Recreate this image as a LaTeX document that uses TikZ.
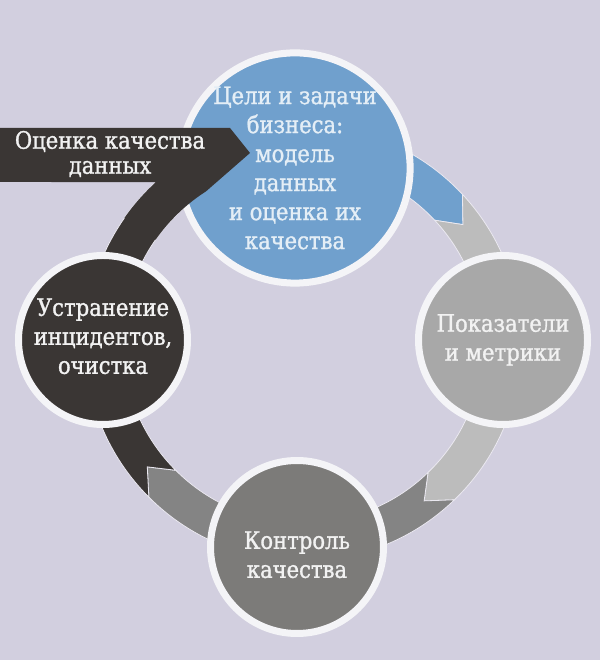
\documentclass[tikz,border=0pt]{standalone}
\usepackage{fontspec}
\setmainfont{DejaVu Serif}[FakeStretch=0.88,FakeBold=1.2]
\usetikzlibrary{calc}

\definecolor{bg}{RGB}{210,207,223}
\definecolor{bluefill}{RGB}{112,160,205}
\definecolor{bluetext}{RGB}{228,238,246}
\definecolor{lightband}{RGB}{188,188,188}
\definecolor{lightfill}{RGB}{168,168,168}
\definecolor{midband}{RGB}{132,132,132}
\definecolor{midfill}{RGB}{124,123,121}
\definecolor{darkfill}{RGB}{58,54,52}
\definecolor{rim}{RGB}{244,244,247}

\begin{document}
\begin{tikzpicture}[x=1pt,y=1pt,
    stage/.style={circle,draw=rim,line width=7pt,align=center,inner sep=0pt,
        text=white!95!black,font=\fontsize{24}{29}\selectfont},
    band/.style={draw=white!55!bg,line width=0.8pt}]
    \useasboundingbox (0,0) rectangle (600,660);
    \fill[bg] (0,0) rectangle (600,660);
    \coordinate (ring) at (303,317);

    % ring of arrows
    \begin{scope}[shift={(ring)}]
    \filldraw[band,fill=bluefill] (100:218) arc[start angle=100,end angle=43,radius=218] -- (36.5:199) -- (43:180) arc[start angle=43,end angle=100,radius=180] -- cycle;
    \filldraw[band,fill=lightband] (43:218) arc[start angle=43,end angle=-46,radius=218] -- (-52.5:199) -- (-46:180) arc[start angle=-46,end angle=43,radius=180] -- (36.5:199) -- cycle;
    \filldraw[band,fill=midband] (-46:218) arc[start angle=-46,end angle=-135,radius=218] -- (-141.5:199) -- (-135:180) arc[start angle=-135,end angle=-46,radius=180] -- (-52.5:199) -- cycle;
    \filldraw[band,fill=darkfill] (-135:218) arc[start angle=-135,end angle=-235,radius=218] -- (-235:180) arc[start angle=-235,end angle=-135,radius=180] -- (-141.5:199) -- cycle;
    \end{scope}

    % stages
    \node[stage,fill=bluefill,text=bluetext,minimum size=219pt] (goals) at (295,492)
        {Цели и задачи\\бизнеса:\\модель\\данных\\и оценка их\\качества};
    \node[stage,fill=lightfill,minimum size=169pt] (metrics) at (503,320)
        {Показатели\\и метрики};
    \node[stage,fill=midfill,minimum size=173pt] (control) at (297,113)
        {\\[4pt]Контроль\\качества};
    \node[stage,fill=darkfill,minimum size=169pt] (cleanup) at (103,320)
        {\\[-19pt]Устранение\\инцидентов,\\очистка};

    % banner over the top circle
    \fill[darkfill] (0,532) -- (230,532) -- (250,507) -- ($(ring)+(122.6:180)$) arc[start angle=122.6,end angle=145,radius=180]
        -- ($(ring)+(145:218)$) arc[start angle=145,end angle=132.4,radius=218] -- (0,478) -- cycle;
    \node[text=white!95!black,align=center,font=\fontsize{24}{25}\selectfont] (assess) at (110,506)
        {Оценка качества\\данных};
\end{tikzpicture}
\end{document}
